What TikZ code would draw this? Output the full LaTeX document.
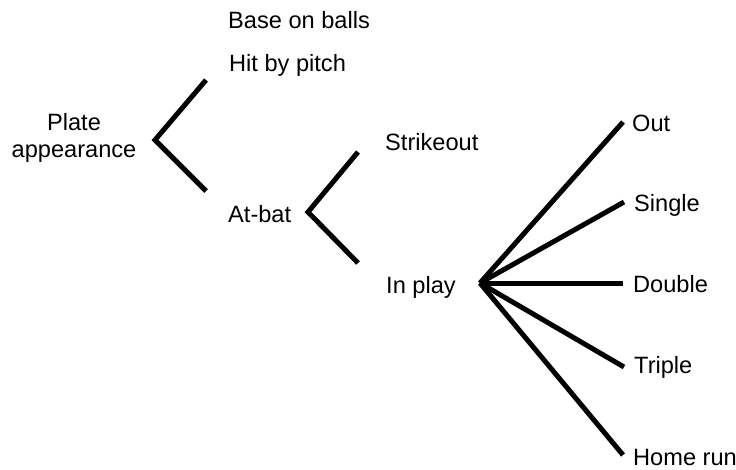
\documentclass[tikz,border=0pt]{standalone}
\usepackage{fontspec}
\setmainfont{Liberation Sans}
\begin{document}
\begin{tikzpicture}[x=1pt,y=-1pt,
  lbl/.style={anchor=base west,inner sep=0pt,font=\fontsize{23.6}{27}\selectfont},
  branch/.style={line width=5pt,line cap=butt,line join=miter}]
\useasboundingbox (0,0) rectangle (736,469);
% labels
\node[lbl] (bob) at (228,28) {Base on balls};
\node[lbl] (hbp) at (229,71) {Hit by pitch};
\node[lbl,anchor=base,align=center] (pa) at (74,157) {Plate\\appearance};
\node[lbl] (ab) at (228,222) {At-bat};
\node[lbl] (so) at (385,150) {Strikeout};
\node[lbl] (ip) at (386,293) {In play};
\node[lbl] (out) at (632,131) {Out};
\node[lbl] (sgl) at (634,211) {Single};
\node[lbl] (dbl) at (633,292) {Double};
\node[lbl] (tpl) at (634,373) {Triple};
\node[lbl] (hr) at (633,465) {Home run};
% branch points
\coordinate (v1) at (155,140);
\coordinate (v1a) at (206,80);
\coordinate (v1b) at (206,191);
\coordinate (v2) at (308,212);
\coordinate (v2a) at (358,152);
\coordinate (v2b) at (358,263);
\coordinate (v3) at (480,283);
\coordinate (e1) at (623,122);
\coordinate (e2) at (624,202);
\coordinate (e3) at (623,283);
\coordinate (e4) at (624,367);
\coordinate (e5) at (623,455);
\draw[branch] (v1a) -- (v1) -- (v1b);
\draw[branch] (v2a) -- (v2) -- (v2b);
\draw[branch] (v3) -- (e1);
\draw[branch] (v3) -- (e2);
\draw[branch] (v3) -- (e3);
\draw[branch] (v3) -- (e4);
\draw[branch] (v3) -- (e5);
\end{tikzpicture}
\end{document}
